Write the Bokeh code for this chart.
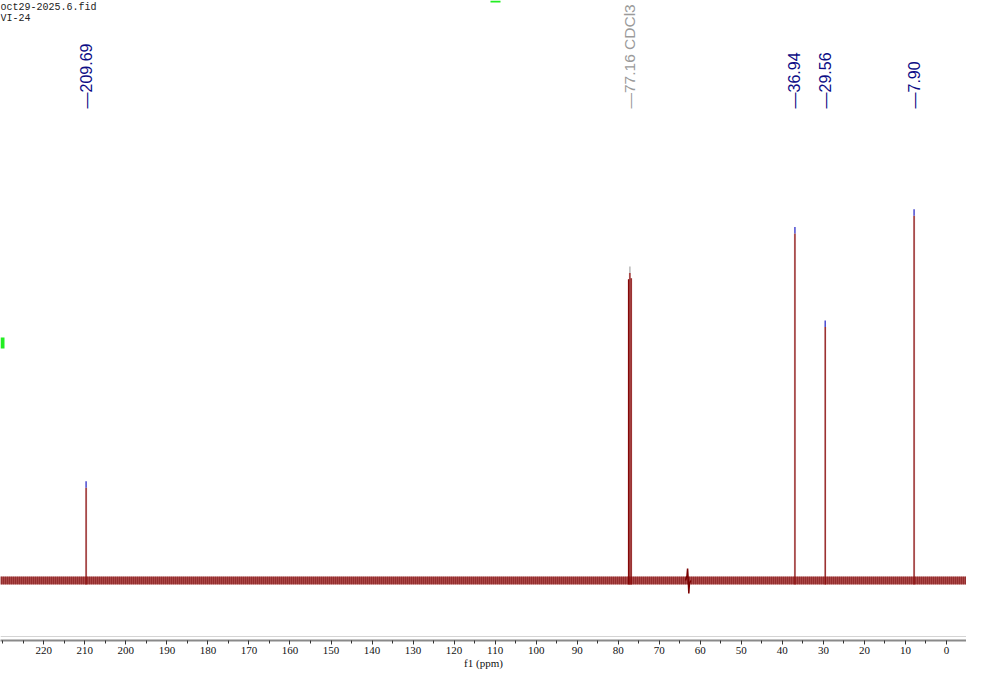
import math
from bokeh.plotting import figure
from bokeh.models import Range1d, FixedTicker, Span, ColumnDataSource
from bokeh.embed import file_html
from bokeh.resources import INLINE
from bokeh.core.properties import value

# ---------------- data ----------------
peak_ppm = [209.69, 77.48, 77.16, 76.84, 36.94, 29.56, 7.90]
peak_height = [25.1, 81.4, 83.1, 81.7, 93.8, 68.5, 98.6]

label_ppm = [209.69, 77.16, 36.94, 29.56, 7.90]
label_text = ["\u2014209.69", "\u201477.16 CDCl3", "\u201436.94", "\u201429.56", "\u20147.90"]

artifact_ppm = [63.6, 63.25, 63.1, 62.95, 62.8, 62.65, 62.3]
artifact_int = [0.0, 1.2, 3.2, 0.3, -3.5, -0.8, 0.0]

noise_amp = 1.05

major_ticks = [220, 210, 200, 190, 180, 170, 160, 150, 140, 130, 120, 110,
               100, 90, 80, 70, 60, 50, 40, 30, 20, 10, 0]
minor_ticks = [230, 225, 215, 205, 195, 185, 175, 165, 155, 145, 135, 125, 115,
               105, 95, 85, 75, 65, 55, 45, 35, 25, 15, 5, -5]
file_lines = ["oct29-2025.6.fid", "VI-24"]
x_label = "f1 (ppm)"

# ---------------- layout helpers (canvas px -> data) ----------------
PX_PER_PPM = 4.1032
PPM0_PX = 946.0
BASE_PY = 580.0
PX_PER_UNIT = 3.7
AXIS_PY = 640


def px2ppm(px):
    return (PPM0_PX - px) / PX_PER_PPM


def py2i(py):
    return (BASE_PY - py) / PX_PER_UNIT


W, H = 966, 671
p = figure(width=W, height=H,
           x_range=Range1d(px2ppm(0), px2ppm(W)),
           y_range=Range1d(py2i(AXIS_PY), py2i(0)),
           output_backend="svg", toolbar_location=None,
           y_axis_location=None, min_border=0, min_border_bottom=H - AXIS_PY)
p.outline_line_color = None
p.grid.visible = False
p.background_fill_color = "white"
p.border_fill_color = "white"

ax = p.xaxis[0]
ax.ticker = FixedTicker(ticks=major_ticks, minor_ticks=minor_ticks)
ax.axis_line_color = "#8a8a8a"
ax.axis_line_width = 2
ax.major_tick_line_color = "#333333"
ax.minor_tick_line_color = "#333333"
ax.major_tick_out = 4
ax.major_tick_in = 0
ax.minor_tick_out = 3
ax.minor_tick_in = 0
ax.major_label_standoff = 2
ax.major_label_text_font = "Liberation Serif"
ax.major_label_text_font_size = "11px"
ax.major_label_text_color = "#111111"
ax.axis_label = x_label
ax.axis_label_standoff = 0
ax.axis_label_text_font = "Liberation Serif"
ax.axis_label_text_font_size = "11px"
ax.axis_label_text_font_style = "normal"
ax.axis_label_text_color = "#111111"

p.add_layout(Span(location=py2i(AXIS_PY - 4), dimension="width", line_color="#d4d4d4", line_width=1))

# baseline noise band (textured)
xs_band = [px2ppm(-2), px2ppm(W + 2)]
p.varea(x=xs_band, y1=[-noise_amp] * 2, y2=[noise_amp] * 2, fill_color="#8B0000", fill_alpha=0.72,
        hatch_pattern="vertical_line", hatch_color="#650000", hatch_scale=2, hatch_weight=1,
        hatch_alpha=0.7)

# artifact
p.line(x=artifact_ppm, y=artifact_int, line_color="#7a0000", line_width=1.5)

# peaks
src = ColumnDataSource(dict(x=peak_ppm, h=peak_height, b=[-noise_amp] * len(peak_ppm)))
p.segment(x0="x", y0="b", x1="x", y1="h", source=src, line_color="#c06060", line_width=2.2, line_alpha=0.3)
p.segment(x0="x", y0="b", x1="x", y1="h", source=src, line_color="#800000", line_width=1.1)

# peak pick tips
tip_x, tip_y0, tip_y1, tip_c = [], [], [], []
for lx, lt in zip(label_ppm, label_text):
    i = min(range(len(peak_ppm)), key=lambda k: abs(peak_ppm[k] - lx))
    tip_x.append(peak_ppm[i])
    tip_y0.append(peak_height[i])
    tip_y1.append(peak_height[i] + 6.5 / PX_PER_UNIT)
    tip_c.append("#b8b8b8" if "CDCl3" in lt else "#4a4ad0")
p.segment(x0=tip_x, y0=tip_y0, x1=tip_x, y1=tip_y1, line_color=tip_c, line_width=1.5)

# peak labels
lab_colors = ["#9a9a9a" if "CDCl3" in t else "#0d0d86" for t in label_text]
lab_sizes = ["15.5px" if "CDCl3" in t else "16px" for t in label_text]
p.text(x=label_ppm, y=[py2i(108)] * len(label_ppm), text=label_text, angle=math.pi / 2,
       text_align="left", text_baseline="middle", text_color=lab_colors,
       text_font=value("Liberation Sans"), text_font_size=lab_sizes)

# file info text
p.text(x=[px2ppm(0), px2ppm(0)], y=[py2i(1), py2i(12)], text=file_lines,
       text_align="left", text_baseline="top",
       text_font=value("Liberation Mono"), text_font_size="10px", text_color="#222222")

# green handle markers
p.quad(left=[px2ppm(0)], right=[px2ppm(4)], top=[py2i(337)], bottom=[py2i(348)],
       fill_color="#22ee22", line_color=None)
p.quad(left=[px2ppm(490)], right=[px2ppm(500)], top=[py2i(0)], bottom=[py2i(2)],
       fill_color="#22ee22", line_color=None)

open("out.html", "w").write(file_html(p, INLINE))
